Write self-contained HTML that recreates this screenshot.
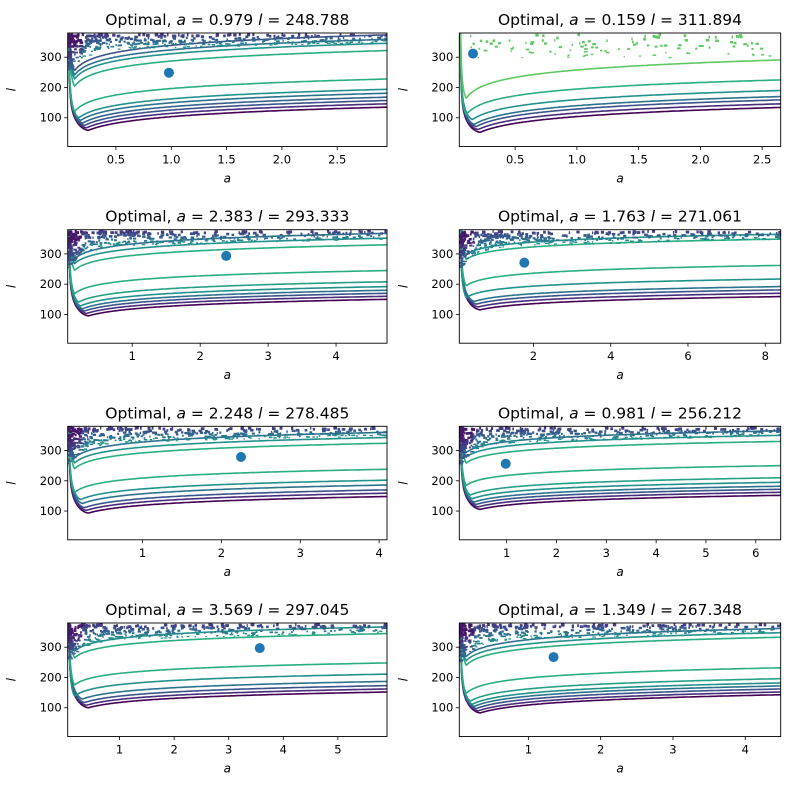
<!DOCTYPE html>
<html><head><meta charset="utf-8"><style>
html,body{margin:0;padding:0;background:#fff;}
svg{display:block;font-family:"DejaVu Sans","Liberation Sans",sans-serif;}
</style></head><body>
<svg id="fig" width="789" height="789" viewBox="0 0 789 789" xmlns="http://www.w3.org/2000/svg"></svg>
<script>
// ---- data ----
const optA = [0.979, 0.159, 2.383, 1.763, 2.248, 0.981, 3.569, 1.349];
const optL = [248.788, 311.894, 293.333, 271.061, 278.485, 256.212, 297.045, 267.348];
const xMins = [0.064, 0.048, 0.05, 0.08, 0.05, 0.05, 0.05, 0.045];
const xMaxs = [2.95, 2.65, 4.75, 8.4, 4.1, 6.5, 5.9, 4.49];
const xTicks = [
  [0.5,1.0,1.5,2.0,2.5],[0.5,1.0,1.5,2.0,2.5],[1,2,3,4],[2,4,6,8],
  [1,2,3,4],[1,2,3,4,5,6],[1,2,3,4,5],[1,2,3,4]];
const xTickLabels = [
  ["0.5","1.0","1.5","2.0","2.5"],["0.5","1.0","1.5","2.0","2.5"],["1","2","3","4"],["2","4","6","8"],
  ["1","2","3","4"],["1","2","3","4","5","6"],["1","2","3","4","5"],["1","2","3","4"]];
const yTicks = [100, 200, 300];
// contour levels: l value at right edge of each panel
const levels = [
  [135,146,157,168,181,194,228,322,346,359,374],
  [134,146,159,170,190,225,291],
  [150,160,170,180,192,208,245,330,352,368],
  [159,170,181,192,217,262,349,365],
  [148,159,170,186,202,238,324,343,360],
  [152,162,172,182,195,210,250,330,350,365],
  [152,162,173,187,211,248,345,367],
  [143,152,162,172,182,196,232,333,348,362]];
// viridis colour index per level
const colorIdx = [
  [0,1,2,2.5,3,4,5,5,4,3,2],
  [0,1,2,3,4,5,6],
  [0,1,2,3,4,4.5,5,5,4,3],
  [0,1,2,3,4,5,5,4],
  [0,1,2,3,4,5,5,4,3],
  [0,1,2,3,4,4.5,5,5,4,3],
  [0,1,2,3,4,5,5,4],
  [0,1,2,3,4,4.5,5,5,4,3]];
const depth = [28, 30, 20, 16, 20, 17, 19, 22];
const yMin = 5, yMax = 380;

const viridis = ["#440154","#472d7b","#3b528b","#2c728e","#21918c","#28ae80","#5ec962","#addc30","#fde725"];
function vcolor(i){
  const f=Math.floor(i), r=i-f; if(r===0) return viridis[f];
  const h=(s)=>[1,3,5].map(k=>parseInt(s.substr(k,2),16));
  const a=h(viridis[f]), b=h(viridis[f+1]);
  return "rgb("+a.map((v,k)=>Math.round(v+(b[k]-v)*r)).join(",")+")";
}

const NS="http://www.w3.org/2000/svg";
const svg=document.getElementById('fig');
function mk(tag, attrs, parent){
  const e=document.createElementNS(NS,tag);
  for(const k in attrs) e.setAttribute(k, attrs[k]);
  (parent||svg).appendChild(e); return e;
}
const colX=[67.7,459.3], axW=[319.3,321.4], rowY=[33,229.7,426.3,623], axH=113.5;

function hash(n){ let x=Math.sin(n*127.1+311.7)*43758.5453; return x-Math.floor(x); }

// contour shape in normalised t
function contourL(t, R, S, tm){
  const Lm = R - S*Math.log(1/tm);
  if(t>=tm) return R - S*Math.log(1/t);
  const q=(tm-t)/tm;
  return Lm + 55*q*q + 0.5/(t-0.002) - 0.5/(tm-0.002);
}

for(let p=0;p<8;p++){
  const col=p%2, row=Math.floor(p/2);
  const X0=colX[col], W=axW[col], Y0=rowY[row], H=axH;
  const xmin=xMins[p], xmax=xMaxs[p];
  const sx=a=>X0+(a-xmin)/(xmax-xmin)*W;
  const sy=l=>Y0+H-(l-yMin)/(yMax-yMin)*H;
  const g=mk('g',{});
  
  
  const cid='clip'+p;
  const cp=mk('clipPath',{id:cid},g);
  mk('rect',{x:X0,y:Y0,width:W,height:H},cp);
  const plot=mk('g',{'clip-path':'url(#'+cid+')'},g);
  
  

  const nLev = levels[p].length;
  levels[p].forEach((R,k)=>{
    const upper = R>210;
    const S=depth[p]*(R>260?1.1:1);
    const tm = upper ? 0.022 : (0.065 - 0.006*Math.min(k,5));
    let pts=[];
    for(let i=0;i<=260;i++){
      const t=0.0028+Math.pow(i/260,2.2)*(1-0.0028);
      let l=contourL(t,R,S,tm);
      if(l>yMax+40) continue;
      const a=xmin+t*(xmax-xmin);
      pts.push(sx(a).toFixed(1)+','+sy(l).toFixed(1));
    }
    const pl=mk('polyline',{points:pts.join(' '),fill:'none',stroke:vcolor(colorIdx[p][k]),'stroke-width':1.6},plot);
    
    
  });

  // speckle texture (noisy high-l region)
  const nSp = p===1 ? 110 : 480;
  for(let i=0;i<nSp;i++){
    const h1=hash(p*1000+i), h2=hash(p*1000+i+0.5), h3=hash(p*1000+i+0.25);
    let t, l, c;
    if(p===1){
      t=h1; l=300+h2*80; c=viridis[6];
    } else {
      t=Math.pow(h1,2.2);
      const lo = 325 - 70*Math.exp(-t/0.05) + t*25;
      l = lo + h2*(yMax-lo);
      c = vcolor(Math.max(0.5, 4.2 - (l-lo)/(yMax-lo+1)*3.0 - (t<0.04?1.5:0)));
    }
    const a = xmin + t*(xmax-xmin);
    const d=mk('rect',{x:sx(a),y:sy(l),width:1.2+h3*2.6,height:1.2+h2*1.8,fill:c},plot);
    
    
  }

  const dot=mk('circle',{cx:sx(optA[p]),cy:sy(optL[p]),r:5,fill:'#1f77b4'},plot);
  
  

  const fr=mk('rect',{x:X0,y:Y0,width:W,height:H,fill:'none',stroke:'#000','stroke-width':0.9},g);
  
  

  xTicks[p].forEach((v,i)=>{
    const x=sx(v);
    const tk=mk('line',{x1:x,x2:x,y1:Y0+H,y2:Y0+H+3.5,stroke:'#000','stroke-width':0.8},g);
    
    
    const tx=mk('text',{x:x,y:Y0+H+17,'font-size':11.5,'text-anchor':'middle',fill:'#000'},g);
    tx.textContent=xTickLabels[p][i];
    
    
  });
  yTicks.forEach(v=>{
    const y=sy(v);
    const tk=mk('line',{x1:X0-3.5,x2:X0,y1:y,y2:y,stroke:'#000','stroke-width':0.8},g);
    
    
    const tx=mk('text',{x:X0-6,y:y+4,'font-size':11.5,'text-anchor':'end',fill:'#000'},g);
    tx.textContent=String(v);
    
    
  });
  const xl=mk('text',{x:X0+W/2,y:Y0+H+36,'font-size':12,'font-style':'italic','text-anchor':'middle'},g);
  xl.textContent='a';
  
  
  const yx=X0-52, yy=Y0+H/2;
  const yl=mk('text',{x:yx,y:yy,'font-size':12,'font-style':'italic','text-anchor':'middle',transform:'rotate(-90 '+yx+' '+yy+')'},g);
  yl.textContent='l';
  
  
  const tt=mk('text',{x:X0+W/2,y:Y0-8,'font-size':15.5,'text-anchor':'middle'},g);
  
  
  const parts=[['Optimal, ',''],['a','italic'],[' = '+optA[p].toFixed(3)+' ',''],['l','italic'],[' = '+optL[p].toFixed(3),'']];
  parts.forEach(([s,st])=>{
    const ts=mk('tspan',st?{'font-style':st}:{},tt);
    ts.textContent=s;
  });
}
</script>
</body></html>
